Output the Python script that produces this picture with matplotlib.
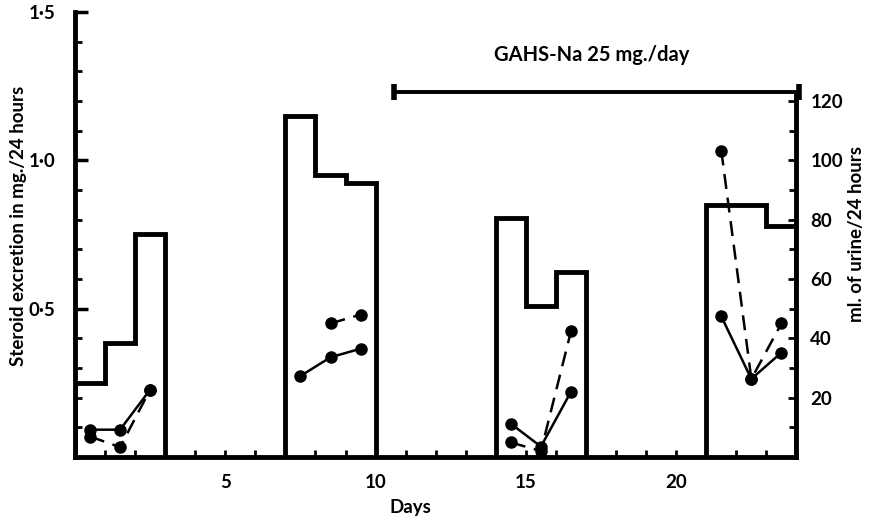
import numpy as np
import matplotlib
matplotlib.use("Agg")
import matplotlib.pyplot as plt

plt.rcParams['font.family'] = ['Lato', 'DejaVu Sans']

# urine volume, ml/24 h, one value per day (bars)
bar_edges = [[0, 1, 2, 3], [7, 8, 9, 10], [14, 15, 16, 17], [21, 22, 23, 24]]
urine_ml = [[25, 38.5, 75], [115, 95, 92.5], [80.5, 51, 62.5], [85, 85, 78]]

# steroid excretion, mg/24 h (solid and dashed dot series)
solid_days = [[0.5, 1.5, 2.5], [7.5, 8.5, 9.5], [14.5, 15.5, 16.5], [21.5, 22.5, 23.5]]
solid_mg = [[0.092, 0.092, 0.227], [0.273, 0.336, 0.365],
            [0.112, 0.035, 0.22], [0.474, 0.263, 0.352]]
dashed_days = [[0.5, 1.5, 2.5], [8.5, 9.5], [14.5, 15.5, 16.5], [21.5, 22.5, 23.5]]
dashed_mg = [[0.069, 0.033, 0.227], [0.45, 0.48],
             [0.049, 0.02, 0.424], [1.033, 0.263, 0.45]]

# treatment period
gahs_span = [10.6, 24.1]
gahs_level = 1.23
gahs_text = "GAHS-Na 25 mg./day"
gahs_text_pos = (17.2, 1.355)

xticks = [5, 10, 15, 20]
left_ticks = [0.5, 1.0, 1.5]
left_labels = ["0\u00b75", "1\u00b70", "1\u00b75"]
right_ticks = [20, 40, 60, 80, 100, 120]

FS = 13.5

fig = plt.figure(figsize=(8.71, 5.2), dpi=100)
ax = fig.add_axes([0.0861, 0.1212, 0.8283, 0.8558])
ax2 = ax.twinx()

LW = 3.5
for e, v in zip(bar_edges, urine_ml):
    ax2.stairs(v, e, baseline=0, fill=False, color='black', linewidth=LW)

for d, v in zip(solid_days, solid_mg):
    ax.plot(d, v, color='black', lw=1.8, marker='o', ms=8, clip_on=False)
for d, v in zip(dashed_days, dashed_mg):
    ax.plot(d, v, color='black', lw=1.8, ls=(0, (6, 3.5)), marker='o', ms=8,
            clip_on=False)

ax.plot(gahs_span, [gahs_level] * 2, color='black', lw=2.8, marker='|',
        ms=11, mew=4, clip_on=False)
ax.text(*gahs_text_pos, gahs_text, ha='center', va='center', fontsize=FS + 1,
        fontweight='bold')

ax.set_xlim(0, 24)
ax.set_ylim(0, 1.5)
ax2.set_ylim(0, 150)

for s in ['top', 'right']:
    ax.spines[s].set_visible(False)
for s in ['top', 'left', 'bottom']:
    ax2.spines[s].set_visible(False)
ax.spines['left'].set_linewidth(LW)
ax.spines['bottom'].set_linewidth(LW)
ax2.spines['right'].set_linewidth(LW)
ax2.spines['right'].set_bounds(0, 122)

ax.set_xticks(xticks)
ax.set_xticks(np.arange(1, 24), minor=True)
ax.set_yticks(left_ticks)
ax.set_yticklabels(left_labels)
ax.set_yticks(np.arange(0.1, 1.5, 0.1), minor=True)
ax.tick_params(axis='x', which='both', direction='in', length=5, width=2,
               labelsize=FS, pad=12)
ax.tick_params(axis='y', which='major', direction='in', length=9, width=2.5,
               labelsize=FS, pad=14)
ax.tick_params(axis='y', which='minor', direction='in', length=5, width=2)
for t in ax.get_xticklabels() + ax.get_yticklabels():
    t.set_fontweight('bold')

ax2.set_yticks(right_ticks)
ax2.set_yticks(np.arange(10, 130, 10), minor=True)
ax2.tick_params(axis='y', which='major', direction='in', length=6, width=2,
                labelsize=FS, pad=10)
ax2.tick_params(axis='y', which='minor', direction='in', length=5, width=2)
for t in ax2.get_yticklabels():
    t.set_fontweight('bold')

ax.set_xlabel("Days", fontsize=FS, fontweight='bold')
ax.xaxis.set_label_coords(0.465, -0.095)
ax.set_ylabel("Steroid excretion in mg./24 hours", fontsize=FS,
              fontweight='bold')
ax.yaxis.set_label_coords(-0.066, 0.52)
ax2.set_ylabel("ml. of urine/24 hours", fontsize=FS, fontweight='bold')
ax2.yaxis.set_label_coords(1.072, 0.5)

fig.savefig("out.png", dpi=100)
